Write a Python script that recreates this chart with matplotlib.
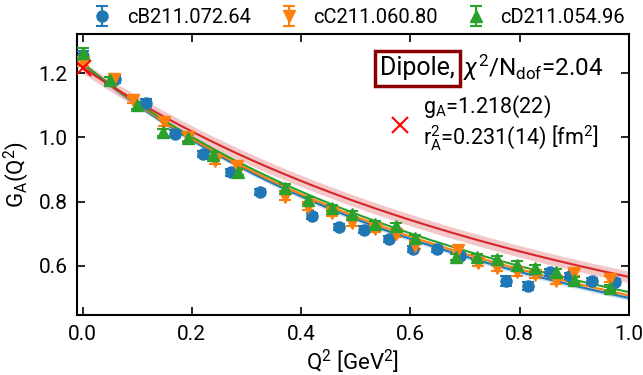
import numpy as np
import matplotlib
matplotlib.use("Agg")
import matplotlib.pyplot as plt

FONT = 'Roboto'
plt.rcParams['font.family'] = [FONT, 'DejaVu Sans']
plt.rcParams['mathtext.fontset'] = 'custom'
plt.rcParams['mathtext.rm'] = FONT
plt.rcParams['mathtext.it'] = FONT + ':italic'
plt.rcParams['mathtext.bf'] = FONT + ':bold'

# ---- data -----------------------------------------------------------
labels = ["cB211.072.64", "cC211.060.80", "cD211.054.96"]
colors = ["#1f77b4", "#ff7f0e", "#2ca02c"]
markers = ["o", "v", "^"]

Q2_B = [0.0, 0.06, 0.116, 0.169, 0.22, 0.272, 0.324, 0.42, 0.469, 0.515, 0.56,
        0.604, 0.648, 0.69, 0.775, 0.815, 0.855, 0.893, 0.933, 0.975]
G_B = [1.255, 1.182, 1.107, 1.012, 0.948, 0.891, 0.831, 0.756, 0.722, 0.713, 0.684,
       0.653, 0.653, 0.631, 0.553, 0.538, 0.58, 0.569, 0.553, 0.55]
E_B = [0.015, 0.012, 0.012, 0.01, 0.01, 0.01, 0.01, 0.01, 0.01, 0.01, 0.01,
       0.01, 0.01, 0.01, 0.015, 0.012, 0.01, 0.01, 0.01, 0.01]

Q2_C = [0.0, 0.057, 0.093, 0.149, 0.193, 0.242, 0.282, 0.371, 0.413, 0.456, 0.493,
        0.535, 0.573, 0.609, 0.687, 0.724, 0.758, 0.795, 0.829, 0.866, 0.9, 0.966]
G_C = [1.235, 1.182, 1.116, 1.047, 1.0, 0.928, 0.91, 0.815, 0.784, 0.766, 0.734,
       0.716, 0.70, 0.662, 0.65, 0.61, 0.594, 0.58, 0.572, 0.553, 0.578, 0.56]
E_C = [0.012, 0.01, 0.01, 0.01, 0.01, 0.01, 0.01, 0.01, 0.01, 0.01, 0.01,
       0.01, 0.01, 0.01, 0.01, 0.01, 0.01, 0.01, 0.01, 0.01, 0.01, 0.01]

Q2_D = [0.0, 0.051, 0.1, 0.147, 0.193, 0.238, 0.284, 0.371, 0.413, 0.456, 0.493,
        0.535, 0.573, 0.609, 0.684, 0.722, 0.758, 0.795, 0.829, 0.866, 0.9, 0.966]
G_D = [1.262, 1.178, 1.1, 1.016, 0.997, 0.944, 0.893, 0.844, 0.806, 0.781, 0.762,
       0.731, 0.725, 0.687, 0.628, 0.628, 0.622, 0.604, 0.592, 0.58, 0.556, 0.531]
E_D = [0.018, 0.01, 0.01, 0.01, 0.01, 0.01, 0.01, 0.01, 0.01, 0.01, 0.01,
       0.01, 0.01, 0.01, 0.01, 0.01, 0.01, 0.01, 0.01, 0.01, 0.01, 0.01]

# dipole fit parameters (gA, M^2 [GeV^2], band half-width) per ensemble and continuum
fit_gA = [1.23, 1.23, 1.23]
fit_M2 = [1.76, 1.80, 1.85]
fit_err = [0.007, 0.0, 0.0]
cont_gA = 1.218
cont_M2 = 2.14
cont_err = 0.018

chi2_text = r"$\chi^2/\mathrm{N}_{\mathrm{dof}}$=2.04"
gA_text = r"$\mathrm{g}_{\mathrm{A}}$=1.218(22)"
r2_text = r"$\mathrm{r}_{\mathrm{A}}^{2}$=0.231(14) [fm$^{2}$]"

FS = 14.5

# ---- figure ---------------------------------------------------------
fig = plt.figure(figsize=(6.43, 3.75), dpi=100)
ax = fig.add_axes([0.120, 0.160, 0.858, 0.749])

q = np.linspace(0, 1.0, 200)
for g, m2, e, c in zip(fit_gA, fit_M2, fit_err, colors):
    y = g / (1 + q / m2) ** 2
    if e > 0:
        ax.fill_between(q, y - e, y + e, color=c, alpha=0.25, lw=0, zorder=1)
    ax.plot(q, y, color=c, lw=1.5, zorder=2)

yc = cont_gA / (1 + q / cont_M2) ** 2
ax.fill_between(q, yc - cont_err, yc + cont_err, color="#d62728", alpha=0.25, lw=0, zorder=1)
ax.plot(q, yc, color="#d62728", lw=1.5, zorder=2)

handles = []
for xs, ys, es, c, m, lab in zip([Q2_B, Q2_C, Q2_D], [G_B, G_C, G_D], [E_B, E_C, E_D],
                                 colors, markers, labels):
    h = ax.errorbar(xs, ys, yerr=es, fmt=m, color=c, ms=8, capsize=4, elinewidth=1.5,
                    capthick=1.5, label=lab, zorder=3)
    handles.append(h)

ax.plot([0.0], [cont_gA], 'x', color='red', ms=12, mew=1.5, zorder=4)

ax.set_xlim(-0.01, 1.0)
ax.set_ylim(0.447, 1.322)
ax.set_xticks([0.0, 0.2, 0.4, 0.6, 0.8, 1.0])
ax.set_yticks([0.6, 0.8, 1.0, 1.2])
ax.tick_params(direction='in', top=True, right=True, length=6, width=1.2, labelsize=15, pad=7)
for s in ax.spines.values():
    s.set_linewidth(1.5)
ax.set_xlabel(r"Q$^2$ [GeV$^2$]", fontsize=16, labelpad=3)
ax.set_ylabel(r"G$_\mathrm{A}$(Q$^2$)", fontsize=16, labelpad=5)

leg = ax.legend(handles=handles, loc='lower center', bbox_to_anchor=(0.51, 0.99), ncol=3,
                frameon=False, fontsize=FS, handlelength=1.0, columnspacing=1.4,
                handletextpad=0.7, borderaxespad=0.1)

ax.text(0.549, 0.879, "Dipole,", transform=ax.transAxes, fontsize=18, va='center', ha='left',
        bbox=dict(boxstyle='square,pad=0.22', ec='#8b0000', fc='white', lw=2.5), zorder=5)
ax.text(0.699, 0.879, chi2_text, transform=ax.transAxes, fontsize=17.5, va='center', ha='left',
        zorder=6)
ax.plot([0.585], [0.676], 'x', color='red', ms=12, mew=1.5, transform=ax.transAxes, zorder=5)
ax.text(0.627, 0.742, gA_text, transform=ax.transAxes, fontsize=15.5, va='center', ha='left')
ax.text(0.627, 0.628, r2_text, transform=ax.transAxes, fontsize=15.5, va='center', ha='left')

fig.savefig("out.png", dpi=100)
